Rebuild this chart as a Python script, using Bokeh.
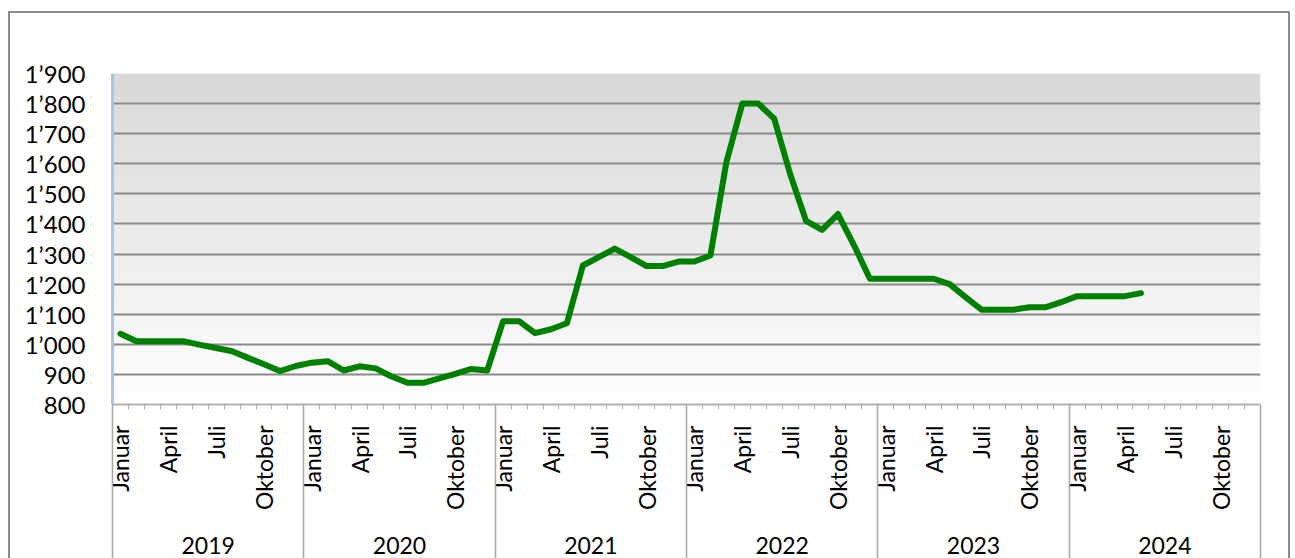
import math
import numpy as np
from bokeh.plotting import figure
from bokeh.models import Range1d, FixedTicker, LinearAxis
from bokeh.embed import file_html
from bokeh.resources import INLINE

# ---- data ----
years = ["2019", "2020", "2021", "2022", "2023", "2024"]
month_label_names = ["Januar", "April", "Juli", "Oktober"]
month_label_index = [0, 3, 6, 9]

values_2019 = [1035, 1010, 1010, 1010, 1010, 998, 988, 977, 955, 934, 911, 928]
values_2020 = [939, 944, 913, 927, 920, 893, 872, 872, 887, 902, 918, 913]
values_2021 = [1077, 1077, 1037, 1050, 1070, 1262, 1290, 1318, 1290, 1260, 1260, 1275]
values_2022 = [1275, 1295, 1605, 1800, 1800, 1750, 1566, 1410, 1380, 1433, 1330, 1218]
values_2023 = [1218, 1218, 1218, 1218, 1200, 1157, 1115, 1115, 1115, 1123, 1123, 1140]
values_2024 = [1160, 1160, 1160, 1160, 1170]

y_ticks = [800, 900, 1000, 1100, 1200, 1300, 1400, 1500, 1600, 1700, 1800, 1900]
y_tick_labels = ["800", "900", "1\u2019000", "1\u2019100", "1\u2019200", "1\u2019300",
                 "1\u2019400", "1\u2019500", "1\u2019600", "1\u2019700", "1\u2019800", "1\u2019900"]

values = values_2019 + values_2020 + values_2021 + values_2022 + values_2023 + values_2024
n_months = 12 * len(years)
x = [i + 0.5 for i in range(len(values))]

FONT = "Lato"
FS = "23px"

p = figure(frame_width=1148, frame_height=331,
           x_range=Range1d(0, n_months), y_range=Range1d(y_ticks[0], y_ticks[-1]),
           x_axis_type=None, output_backend="svg", toolbar_location=None,
           min_border_left=102, min_border_right=28, min_border_top=60, min_border_bottom=160)
p.styles = {"border": "2px solid #8c8c8c", "margin-top": "11px", "margin-left": "8px"}
p.outline_line_color = None
p.background_fill_color = "white"
p.border_fill_color = "white"

# gradient background of plot area
grad = np.linspace(0, 1, 256)
top = np.array([217, 217, 217]); bot = np.array([255, 255, 255])
img = np.zeros((256, 1), dtype=np.uint32)
view = img.view(dtype=np.uint8).reshape((256, 1, 4))
for r in range(256):
    c = bot + (top - bot) * grad[r]
    view[r, 0, 0:3] = c.astype(np.uint8)
    view[r, 0, 3] = 255
p.image_rgba(image=[img], x=0, y=y_ticks[0], dw=n_months, dh=y_ticks[-1] - y_ticks[0], level="image")

# grid
p.ygrid.ticker = FixedTicker(ticks=y_ticks[1:])
p.ygrid.grid_line_color = "#8a8a8a"
p.ygrid.grid_line_width = 2

# y axis
ya = p.yaxis[0]
ya.ticker = FixedTicker(ticks=y_ticks)
ya.major_label_overrides = {t: l for t, l in zip(y_ticks, y_tick_labels)}
ya.major_tick_out = 0
ya.major_tick_in = 0
ya.minor_tick_line_color = None
ya.axis_line_color = "#aac4e8"
ya.axis_line_width = 3
ya.major_label_standoff = 27
ya.major_label_text_font = FONT
ya.major_label_text_font_size = "24px"
ya.major_label_text_color = "black"

# month label axis
label_pos = [12 * yi + mi + 0.5 for yi in range(len(years)) for mi in month_label_index]
label_txt = [m for yi in range(len(years)) for m in month_label_names]
ax1 = LinearAxis(ticker=FixedTicker(ticks=label_pos, minor_ticks=list(range(n_months + 1))))
ax1.major_label_overrides = {pos: t for pos, t in zip(label_pos, label_txt)}
ax1.major_label_orientation = math.pi / 2
ax1.major_tick_out = 0
ax1.major_tick_in = 0
ax1.minor_tick_out = 5
ax1.minor_tick_in = 0
ax1.minor_tick_line_color = "#b0b0b0"
ax1.axis_line_color = "#b0b0b0"
ax1.axis_line_width = 2
ax1.major_label_standoff = 16
ax1.major_label_text_font = FONT
ax1.major_label_text_font_size = FS
ax1.major_label_text_color = "black"
p.add_layout(ax1, "below")

# year axis
year_pos = [12 * yi + 6 for yi in range(len(years))]
ax2 = LinearAxis(ticker=FixedTicker(ticks=year_pos, minor_ticks=[12 * yi for yi in range(len(years) + 1)]))
ax2.major_label_overrides = {pos: y for pos, y in zip(year_pos, years)}
ax2.major_tick_out = 0
ax2.major_tick_in = 0
ax2.minor_tick_in = 108
ax2.minor_tick_out = 50
ax2.minor_tick_line_color = "#a6a6a6"
ax2.minor_tick_line_width = 1.5
ax2.axis_line_color = None
ax2.major_label_standoff = -27
ax2.major_label_text_font = FONT
ax2.major_label_text_font_size = FS
ax2.major_label_text_color = "black"
p.add_layout(ax2, "below")

# data line
p.line(x, values, line_color="#008000", line_width=6, line_join="round", line_cap="round")

open("out.html", "w").write(file_html(p, INLINE))
